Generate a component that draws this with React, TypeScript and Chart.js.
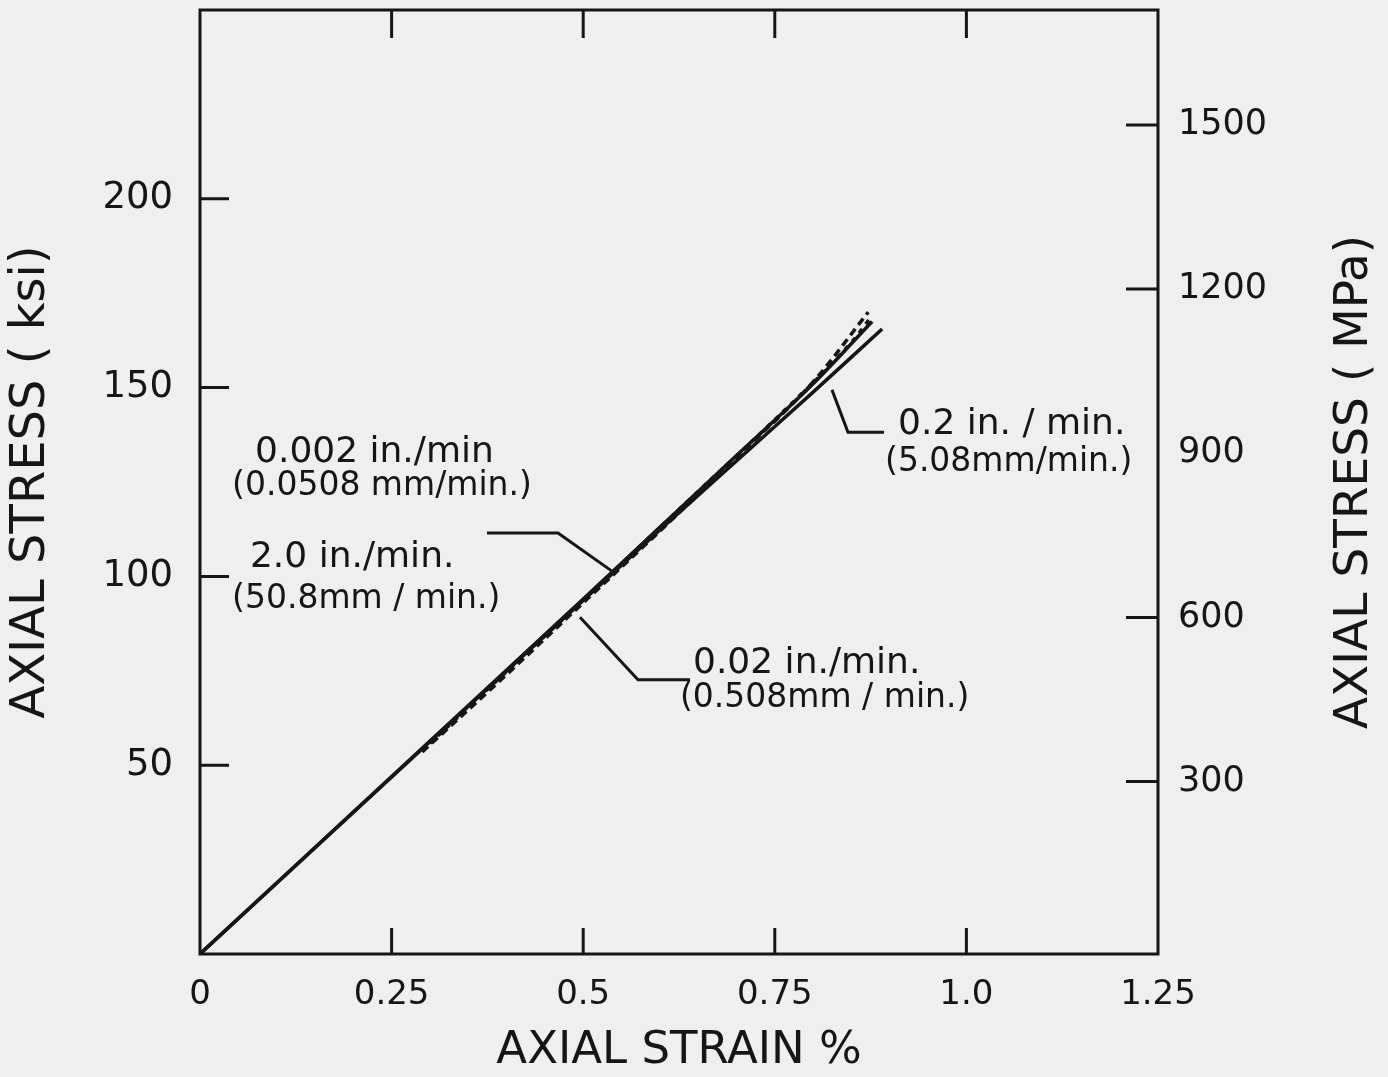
import React, { useEffect, useRef } from "react";
import { Chart, registerables } from "chart.js";

Chart.register(...registerables);

// ---------- axis ticks ----------
const STRAIN_TICKS = [0, 0.25, 0.5, 0.75, 1.0, 1.25];
const STRAIN_TICK_LABELS = ["0", "0.25", "0.5", "0.75", "1.0", "1.25"];
const STRAIN_TICK_MARKS = [0.25, 0.5, 0.75, 1.0];
const KSI_TICKS = [50, 100, 150, 200];
const MPA_TICKS = [300, 600, 900, 1200, 1500];
const MPA_TICK_MARKS = [300, 600, 1200, 1500];

// ---------- curves (strain %, stress ksi) ----------
const RATE_20_STRAIN = [0, 0.3, 0.5, 0.6, 0.7, 0.8, 0.877];
const RATE_20_STRESS = [0, 56.4, 94, 113, 132, 151, 167.5];

const RATE_02_STRAIN = [0, 0.3, 0.5, 0.6, 0.7, 0.8, 0.89];
const RATE_02_STRESS = [0, 56.2, 93.6, 112.3, 130.6, 148.8, 165.5];

const RATE_002_STRAIN = [0.29, 0.4, 0.5, 0.6, 0.7, 0.8, 0.872];
const RATE_002_STRESS = [53.5, 74, 93, 112, 131.5, 151.5, 170];

const RATE_0002_STRAIN = [0.3, 0.5, 0.65, 0.75, 0.85, 0.875];
const RATE_0002_STRESS = [55.8, 93.8, 122.5, 141.5, 162, 168.5];

// ---------- leader lines ----------
const LEADER_20_STRAIN = [0.3745, 0.4671, 0.5389];
const LEADER_20_STRESS = [111.5, 111.5, 101.2];
const LEADER_002_STRAIN = [0.4958, 0.5715, 0.6394];
const LEADER_002_STRESS = [89.2, 72.6, 72.6];
const LEADER_02_STRAIN = [0.8246, 0.8455, 0.8925];
const LEADER_02_STRESS = [149.4, 138.2, 138.2];

// ---------- labels ----------
const LABEL_TEXT = [
  "0.002 in./min",
  "(0.0508 mm/min.)",
  "2.0 in./min.",
  "(50.8mm / min.)",
  "0.02 in./min.",
  "(0.508mm / min.)",
  "0.2 in. / min.",
  "(5.08mm/min.)",
];
const LABEL_STRAIN = [0.0718, 0.0418, 0.0652, 0.0418, 0.6433, 0.6263, 0.9108, 0.8938];
const LABEL_STRESS = [132.9, 123.7, 105.1, 93.8, 76.8, 67.8, 140.1, 130.3];

const INK = "#161616";
const FONT = "'DejaVu Sans', sans-serif";

function pts(xs: number[], ys: number[]) {
  return xs.map((x, i) => ({ x, y: ys[i] }));
}

export default function App() {
  const ref = useRef<HTMLCanvasElement | null>(null);

  useEffect(() => {
    document.body.style.margin = "0";
    const canvas = ref.current!;
    const curve = (label: string, xs: number[], ys: number[], dash: number[]) => ({
      label,
      data: pts(xs, ys),
      borderColor: INK,
      borderWidth: 3.5,
      borderDash: dash,
      pointRadius: 0,
      fill: false,
      cubicInterpolationMode: "monotone" as const,
    });
    const leader = (label: string, xs: number[], ys: number[]) => ({
      label,
      data: pts(xs, ys),
      borderColor: INK,
      borderWidth: 3,
      pointRadius: 0,
      fill: false,
      tension: 0,
    });

    const deco = {
      id: "deco",
      beforeDraw(chart: any) {
        const { ctx } = chart;
        ctx.save();
        ctx.fillStyle = "#efefef";
        ctx.fillRect(0, 0, chart.width, chart.height);
        ctx.restore();
      },
      afterDraw(chart: any) {
        const { ctx, chartArea: a, scales } = chart;
        ctx.save();
        ctx.strokeStyle = INK;
        ctx.lineWidth = 3;
        ctx.strokeRect(a.left, a.top, a.right - a.left, a.bottom - a.top);
        ctx.beginPath();
        for (const v of STRAIN_TICK_MARKS) {
          const px = scales.x.getPixelForValue(v);
          ctx.moveTo(px, a.bottom);
          ctx.lineTo(px, a.bottom - 26);
          ctx.moveTo(px, a.top);
          ctx.lineTo(px, a.top + 28);
        }
        for (const v of KSI_TICKS) {
          const py = scales.y.getPixelForValue(v);
          ctx.moveTo(a.left, py);
          ctx.lineTo(a.left + 29, py);
        }
        for (const v of MPA_TICK_MARKS) {
          const py = scales.y2.getPixelForValue(v);
          ctx.moveTo(a.right - 32, py);
          ctx.lineTo(a.right, py);
        }
        ctx.stroke();

        ctx.fillStyle = INK;
        ctx.textAlign = "left";
        ctx.textBaseline = "middle";
        LABEL_TEXT.forEach((t, i) => {
          ctx.font = `${t.startsWith("(") ? 33 : 36}px ${FONT}`;
          ctx.fillText(
            t,
            scales.x.getPixelForValue(LABEL_STRAIN[i]),
            scales.y.getPixelForValue(LABEL_STRESS[i])
          );
        });

        // right axis title reads bottom-to-top
        ctx.translate(1355, (a.top + a.bottom) / 2);
        ctx.rotate(-Math.PI / 2);
        ctx.font = `47px ${FONT}`;
        ctx.textAlign = "center";
        ctx.fillText("AXIAL STRESS ( MPa)", 0, 0);
        ctx.restore();
      },
    };

    const noPadY = (w: number) => (s: any) => {
      s.width = w;
      s.paddingTop = 0;
      s.paddingBottom = 0;
    };

    const chart = new Chart(canvas, {
      type: "line",
      data: {
        datasets: [
          curve("2.0 in./min.", RATE_20_STRAIN, RATE_20_STRESS, []),
          curve("0.2 in./min.", RATE_02_STRAIN, RATE_02_STRESS, []),
          curve("0.02 in./min.", RATE_002_STRAIN, RATE_002_STRESS, [8, 5]),
          curve("0.002 in./min", RATE_0002_STRAIN, RATE_0002_STRESS, [5, 6]),
          leader("leader 2.0", LEADER_20_STRAIN, LEADER_20_STRESS),
          leader("leader 0.02", LEADER_002_STRAIN, LEADER_002_STRESS),
          leader("leader 0.2", LEADER_02_STRAIN, LEADER_02_STRESS),
        ],
      },
      options: {
        animation: false,
        responsive: false,
        events: [],
        layout: { padding: { top: 10, left: 0, right: 0, bottom: 0 } },
        plugins: { legend: { display: false }, tooltip: { enabled: false }, title: { display: false } },
        scales: {
          x: {
            type: "linear",
            position: "bottom",
            min: 0,
            max: 1.25,
            grid: { display: false, drawTicks: false },
            border: { display: false },
            afterBuildTicks: (s: any) => {
              s.ticks = STRAIN_TICKS.map((v) => ({ value: v }));
            },
            afterFit: (s: any) => {
              s.height = 123;
              s.paddingLeft = 0;
              s.paddingRight = 0;
            },
            ticks: {
              color: INK,
              font: { family: FONT, size: 34 },
              padding: 21,
              maxRotation: 0,
              autoSkip: false,
              callback: (v: any) => STRAIN_TICK_LABELS[STRAIN_TICKS.indexOf(Number(v))] ?? "",
            },
            title: {
              display: true,
              text: "AXIAL STRAIN %",
              color: INK,
              font: { family: FONT, size: 45, lineHeight: 1 },
              padding: { top: 0, bottom: 3 },
            },
          },
          y: {
            type: "linear",
            position: "left",
            min: 0,
            max: 250,
            grid: { display: false, drawTicks: false },
            border: { display: false },
            afterBuildTicks: (s: any) => {
              s.ticks = KSI_TICKS.map((v) => ({ value: v }));
            },
            afterFit: noPadY(200),
            ticks: {
              color: INK,
              font: { family: FONT, size: 37 },
              padding: 27,
              callback: (v: any) => String(v),
            },
            title: {
              display: true,
              text: "AXIAL STRESS ( ksi)",
              color: INK,
              font: { family: FONT, size: 48, lineHeight: 1 },
              padding: { top: 8, bottom: 0 },
            },
          },
          y2: {
            type: "linear",
            position: "right",
            min: -15,
            max: 1710,
            grid: { display: false, drawTicks: false },
            border: { display: false },
            afterBuildTicks: (s: any) => {
              s.ticks = MPA_TICKS.map((v) => ({ value: v }));
            },
            afterFit: noPadY(230),
            ticks: {
              color: INK,
              font: { family: FONT, size: 35 },
              padding: 20,
              callback: (v: any) => String(v),
            },
          },
        },
      },
      plugins: [deco],
    } as any);

    return () => chart.destroy();
  }, []);

  return (
    <div style={{ position: "absolute", left: 0, top: 0, width: 1388, height: 1077 }}>
      <canvas ref={ref} width={1388} height={1077} style={{ display: "block" }} />
    </div>
  );
}
